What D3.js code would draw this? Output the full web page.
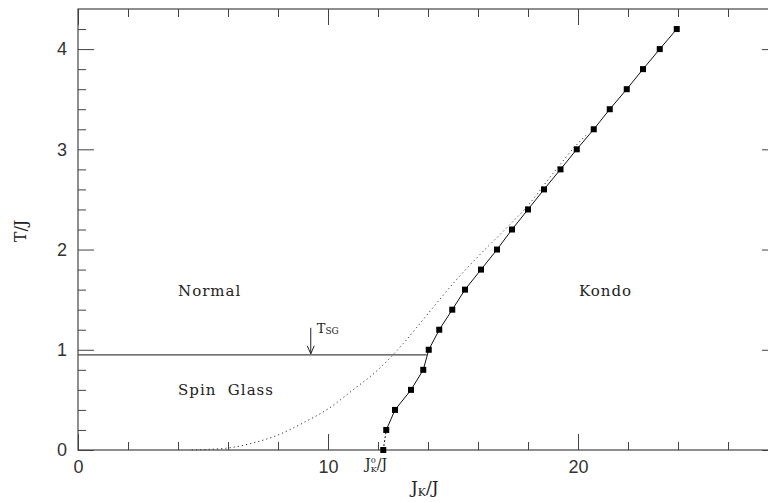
<!DOCTYPE html>
<html><head><meta charset="utf-8">
<script src="https://cdn.jsdelivr.net/npm/d3@7"></script>
<style>
html,body{margin:0;padding:0;background:#fff;}
svg{display:block;}
</style>
</head><body>
<svg id="c" width="768" height="502"></svg>
<script>
// Kondo / spin-glass boundary data (T/J values and corresponding J_K/J)
const kondoT  = [0,0.2,0.4,0.6,0.8,1.0,1.2,1.4,1.6,1.8,2.0,2.2,2.4,2.6,2.8,3.0,3.2,3.4,3.6,3.8,4.0,4.2];
const kondoJ  = [12.21,12.33,12.68,13.32,13.81,14.03,14.45,14.97,15.48,16.12,16.76,17.36,18.0,18.64,19.3,19.95,20.63,21.27,21.95,22.6,23.27,23.95];
// dotted crossover curve
const dotJ = [4.55,5.5,6,7,8,9,10,11,12,13,14,15,16,17,18,19,20,20.4];
const dotT = [0,0.01,0.02,0.07,0.15,0.27,0.41,0.6,0.8,1.06,1.36,1.66,1.93,2.18,2.44,2.76,3.06,3.16];
// spin glass temperature
const tSG = 0.95;
const tSGend = 13.95;
const arrowJ = 9.31;
// tick labels
const xMajor = [0,10,20];
const xMinor = [2,4,6,8,12,14,16,18,22,24,26];
const yMajor = [0,1,2,3,4];
const yMinor = [0.2,0.4,0.6,0.8,1.2,1.4,1.6,1.8,2.2,2.4,2.6,2.8,3.2,3.4,3.6,3.8,4.2];

const svg = d3.select("#c");
const x = d3.scaleLinear().domain([0,28]).range([78,778]);
const y = d3.scaleLinear().domain([0,4.4]).range([450,9]);
const axCol = "#444";
const serif = "'DejaVu Serif', serif";
const sans = "'Liberation Sans', Arial, sans-serif";

function styleAxis(g){
  g.select(".domain").remove();
  g.selectAll(".tick line").attr("stroke",axCol).attr("stroke-width",1);
  g.selectAll("text").attr("font-family",sans).attr("font-size",18).attr("fill","#333");
}
// bottom
svg.append("g").attr("transform",`translate(0,${y(0)})`)
  .call(d3.axisBottom(x).tickValues(xMajor).tickSize(-16).tickPadding(10).tickFormat(d3.format("d")))
  .call(styleAxis);
svg.append("g").attr("transform",`translate(0,${y(0)})`)
  .call(d3.axisBottom(x).tickValues(xMinor).tickSize(-8).tickFormat(""))
  .call(styleAxis);
// top
svg.append("g").attr("transform",`translate(0,${y(4.4)})`)
  .call(d3.axisTop(x).tickValues(xMajor).tickSize(-16).tickFormat(""))
  .call(styleAxis);
svg.append("g").attr("transform",`translate(0,${y(4.4)})`)
  .call(d3.axisTop(x).tickValues(xMinor).tickSize(-8).tickFormat(""))
  .call(styleAxis);
// left
svg.append("g").attr("transform",`translate(${x(0)},0)`)
  .call(d3.axisLeft(y).tickValues(yMajor).tickSize(-16).tickPadding(11).tickFormat(d3.format("d")))
  .call(styleAxis);
svg.append("g").attr("transform",`translate(${x(0)},0)`)
  .call(d3.axisLeft(y).tickValues(yMinor).tickSize(-8).tickFormat(""))
  .call(styleAxis);
// right
svg.append("g").attr("transform",`translate(${x(28)},0)`)
  .call(d3.axisRight(y).tickValues(yMajor).tickSize(-16).tickFormat(""))
  .call(styleAxis);
svg.append("g").attr("transform",`translate(${x(28)},0)`)
  .call(d3.axisRight(y).tickValues(yMinor).tickSize(-8).tickFormat(""))
  .call(styleAxis);
// frame
svg.append("rect").attr("x",x(0)).attr("y",y(4.4)).attr("width",x(28)-x(0)).attr("height",y(0)-y(4.4))
  .attr("fill","none").attr("stroke",axCol).attr("stroke-width",1.2);

// dotted crossover curve
const dotPts = dotJ.map((j,i)=>[j,dotT[i]]);
svg.append("path").datum(dotPts)
  .attr("d",d3.line().x(d=>x(d[0])).y(d=>y(d[1])).curve(d3.curveMonotoneX))
  .attr("fill","none").attr("stroke","#333").attr("stroke-width",1).attr("stroke-dasharray","1.2,3");

// T_SG line
svg.append("line").attr("x1",x(0)).attr("x2",x(tSGend)).attr("y1",y(tSG)).attr("y2",y(tSG))
  .attr("stroke","#444").attr("stroke-width",1.2);

// Kondo line
const kPts = kondoJ.map((j,i)=>[j,kondoT[i]]);
const ln = d3.line().x(d=>x(d[0])).y(d=>y(d[1]));
svg.append("path").datum(kPts.slice(0,2)).attr("d",ln)
  .attr("fill","none").attr("stroke","#111").attr("stroke-width",1).attr("stroke-dasharray","2,2");
svg.append("path").datum(kPts.slice(1)).attr("d",ln)
  .attr("fill","none").attr("stroke","#111").attr("stroke-width",1);
svg.selectAll("rect.pt").data(kPts).enter().append("rect").attr("class","pt")
  .attr("x",d=>x(d[0])-3).attr("y",d=>y(d[1])-3).attr("width",6).attr("height",6).attr("fill","#000");

// arrow
const ax0 = x(arrowJ);
svg.append("line").attr("x1",ax0).attr("x2",ax0).attr("y1",y(tSG)-27).attr("y2",y(tSG)-1)
  .attr("stroke","#222").attr("stroke-width",1);
svg.append("path").attr("d",`M${ax0-3.5},${y(tSG)-9} L${ax0},${y(tSG)-1} L${ax0+3.5},${y(tSG)-9}`)
  .attr("fill","none").attr("stroke","#222").attr("stroke-width",1);
const tsg = svg.append("text").attr("x",ax0+6).attr("y",y(tSG)-22).attr("font-family",serif).attr("font-size",13).attr("fill","#222");
tsg.append("tspan").text("T");
tsg.append("tspan").attr("font-size",9).attr("dy",1.5).text("SG");

// region labels
function lab(t,xx,yy){
  svg.append("text").attr("x",xx).attr("y",yy).attr("font-family",serif).attr("font-size",15)
    .attr("letter-spacing",1).attr("fill","#222").attr("xml:space","preserve").style("white-space","pre").text(t);
}
lab("Normal",178,296);
lab("Spin  Glass",178,395);
lab("Kondo",579,296);

// J_K^0/J label
const jk0 = svg.append("text").attr("x",365).attr("y",469).attr("font-family",serif).attr("font-size",14).attr("fill","#222");
jk0.append("tspan").text("J");
jk0.append("tspan").attr("font-size",8).attr("dy",-6).text("0");
jk0.append("tspan").attr("font-size",8).attr("dx",-5).attr("dy",9).text("K");
jk0.append("tspan").attr("dy",-3).text("/J");

// axis titles
const xt = svg.append("text").attr("x",411).attr("y",493).attr("font-family",serif).attr("font-size",17).attr("fill","#222");
xt.append("tspan").text("J");
xt.append("tspan").attr("font-size",11).attr("dy",3).text("K");
xt.append("tspan").attr("dy",-3).text("/J");
svg.append("text").attr("transform","translate(26,231) rotate(-90)").attr("text-anchor","middle")
  .attr("font-family",serif).attr("font-size",16).attr("fill","#222").text("T/J");
</script>
</body></html>
